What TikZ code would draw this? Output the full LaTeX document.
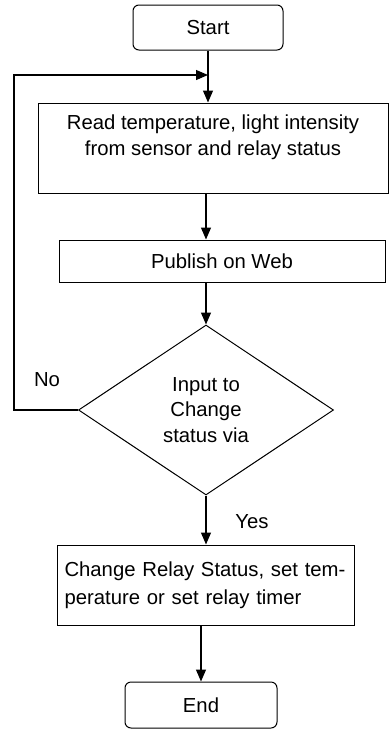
\documentclass[tikz,border=0pt]{standalone}
\usepackage{fontspec}
\setmainfont{Liberation Sans}
\usetikzlibrary{arrows.meta,shapes.geometric}
\tikzset{
	box/.style={draw, line width=1pt, inner sep=0pt},
	term/.style={box, rounded corners=6pt},
	arr/.style={line width=1.1pt, -{Triangle[length=12pt,width=10pt]}}
}

\begin{document}
\begin{tikzpicture}[x=1pt, y=-1pt, font=\fontsize{20.3}{25.5}\selectfont]
			%%%%% START %%%%%
			\useasboundingbox (0, 0) rectangle (389, 729);
			
			\node[term, minimum width=150, minimum height=45] (start) at (208, 27.5) {Start};
			
			\node[box, minimum width=350, minimum height=90, align=center] (read) at (213, 148) {Read temperature, light intensity\\ from sensor and relay status\\ \mbox{}};
			
			\node[box, minimum width=326, minimum height=42] (pub) at (222, 261) {Publish on Web};
			
			\node[box, shape=diamond, minimum width=255, minimum height=170, align=center] (dec) at (206, 410) {Input to\\ Change\\ status via};
			
			\node[box, minimum width=297, minimum height=80, text width=282, align=left] (chg) at (205.5, 585) {Change Relay Status, set tem-\\[3pt] perature or set relay timer};
			
			\node[term, minimum width=152, minimum height=46] (end) at (201, 705) {End};
			
			\coordinate (loop) at (14, 75);
			
			\draw[arr] (start.south) -- (start.south |- read.north);
			\draw[arr] (read.south -| dec.north) -- (dec.north |- pub.north);
			\draw[arr] (pub.south -| dec.north) -- (dec.north);
			\draw[arr] (dec.south) -- (dec.south |- chg.north);
			\draw[arr] (chg.south -| end.north) -- (end.north);
			
			\draw[arr] (dec.west) -| (loop) -- (loop -| start.south);
			
			\node (no) at (47, 380) {No};
			\node (yes) at (252, 522) {Yes};
			
			%%%%% END %%%%%
\end{tikzpicture}
\end{document}
